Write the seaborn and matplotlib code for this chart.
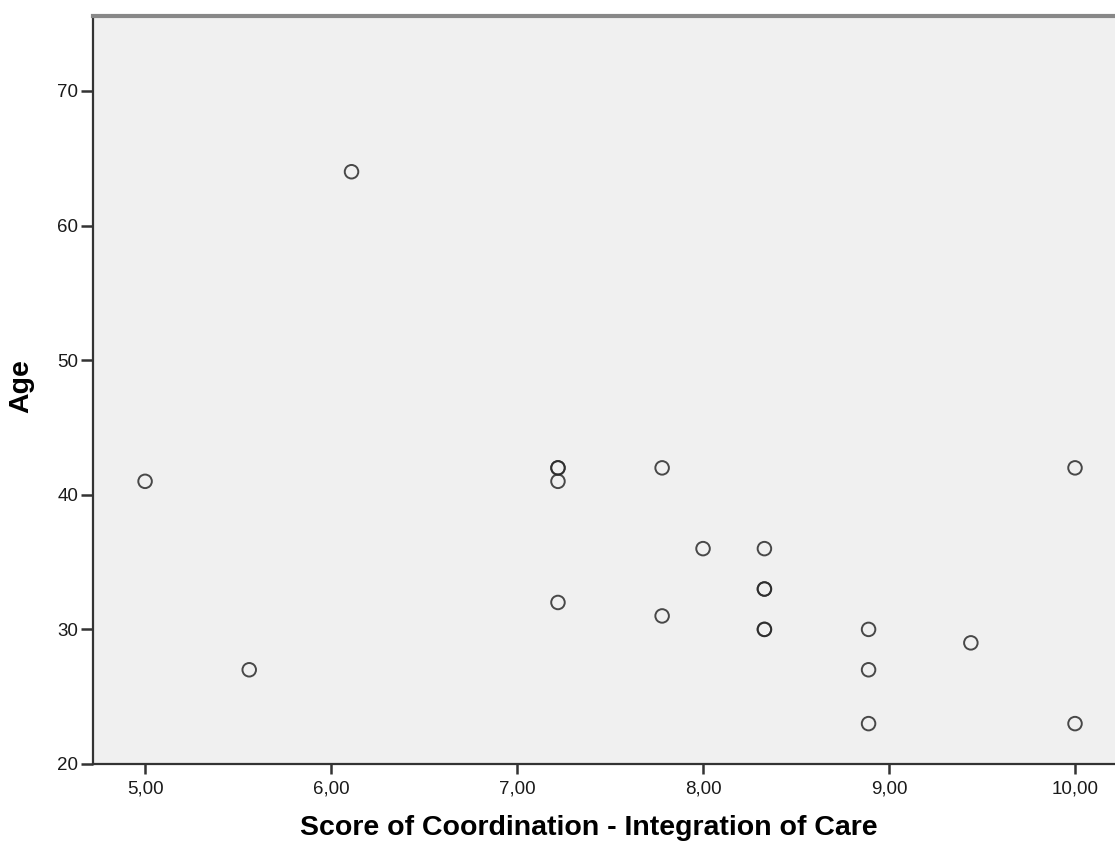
import pandas as pd
import seaborn as sns
import matplotlib.pyplot as plt

# scores (x) and ages (y); bold rings = repeated values
score = [5.00, 5.56, 6.11, 7.22, 7.22, 7.22, 7.22, 7.78, 7.78, 8.00,
         8.33, 8.33, 8.33, 8.33, 8.33, 8.89, 8.89, 8.89, 9.44, 10.00, 10.00]
age = [41, 27, 64, 42, 42, 41, 32, 42, 31, 36,
       36, 33, 33, 30, 30, 30, 27, 23, 29, 42, 23]

x_ticks = [5, 6, 7, 8, 9, 10]
x_tick_labels = ['5,00', '6,00', '7,00', '8,00', '9,00', '10,00']
y_ticks = [20, 30, 40, 50, 60, 70]


def main():
    sns.set_style('white')
    plt.rcParams['font.family'] = ['Liberation Sans', 'DejaVu Sans']

    df = pd.DataFrame({'score': score, 'age': age})

    fig = plt.figure(figsize=(11.15, 8.41), dpi=100)
    ax = fig.add_axes([93 / 1115, 1 - 764 / 841, 1 - 93 / 1115, (764 - 16) / 841])
    ax.set_facecolor('#f0f0f0')

    sns.scatterplot(
        data=df,
        x='score',
        y='age',
        ax=ax,
        s=95,
        marker='o',
        facecolors='none',
        edgecolors='#2a2a2a',
        linewidth=1.4,
        alpha=0.85
    )

    ax.set_xlim(4.72, 10.215)
    ax.set_ylim(20, 75.57)
    ax.set_xticks(x_ticks)
    ax.set_xticklabels(x_tick_labels)
    ax.set_yticks(y_ticks)

    ax.tick_params(axis='both', direction='out', width=1.8, color='#333333',
                   labelsize=13.5, labelcolor='#1a1a1a', bottom=True, left=True)
    ax.tick_params(axis='x', length=7, pad=5)
    ax.tick_params(axis='y', length=9, pad=1.5)

    ax.spines['right'].set_visible(False)
    ax.spines['top'].set_color('#888888')
    ax.spines['top'].set_linewidth(3)
    for side in ['left', 'bottom']:
        ax.spines[side].set_color('#333333')
        ax.spines[side].set_linewidth(1.6)

    ax.set_xlabel('Score of Coordination - Integration of Care',
                  fontsize=20.5, fontweight='bold', color='black')
    ax.set_ylabel('Age', fontsize=20.5, fontweight='bold', color='black')
    # SPSS puts the title a bit left of the axis centre
    ax.xaxis.set_label_coords(0.485, -0.068)
    ax.yaxis.set_label_coords(-0.057, 0.505)

    fig.savefig('out.png', dpi=100)


if __name__ == '__main__':
    main()
